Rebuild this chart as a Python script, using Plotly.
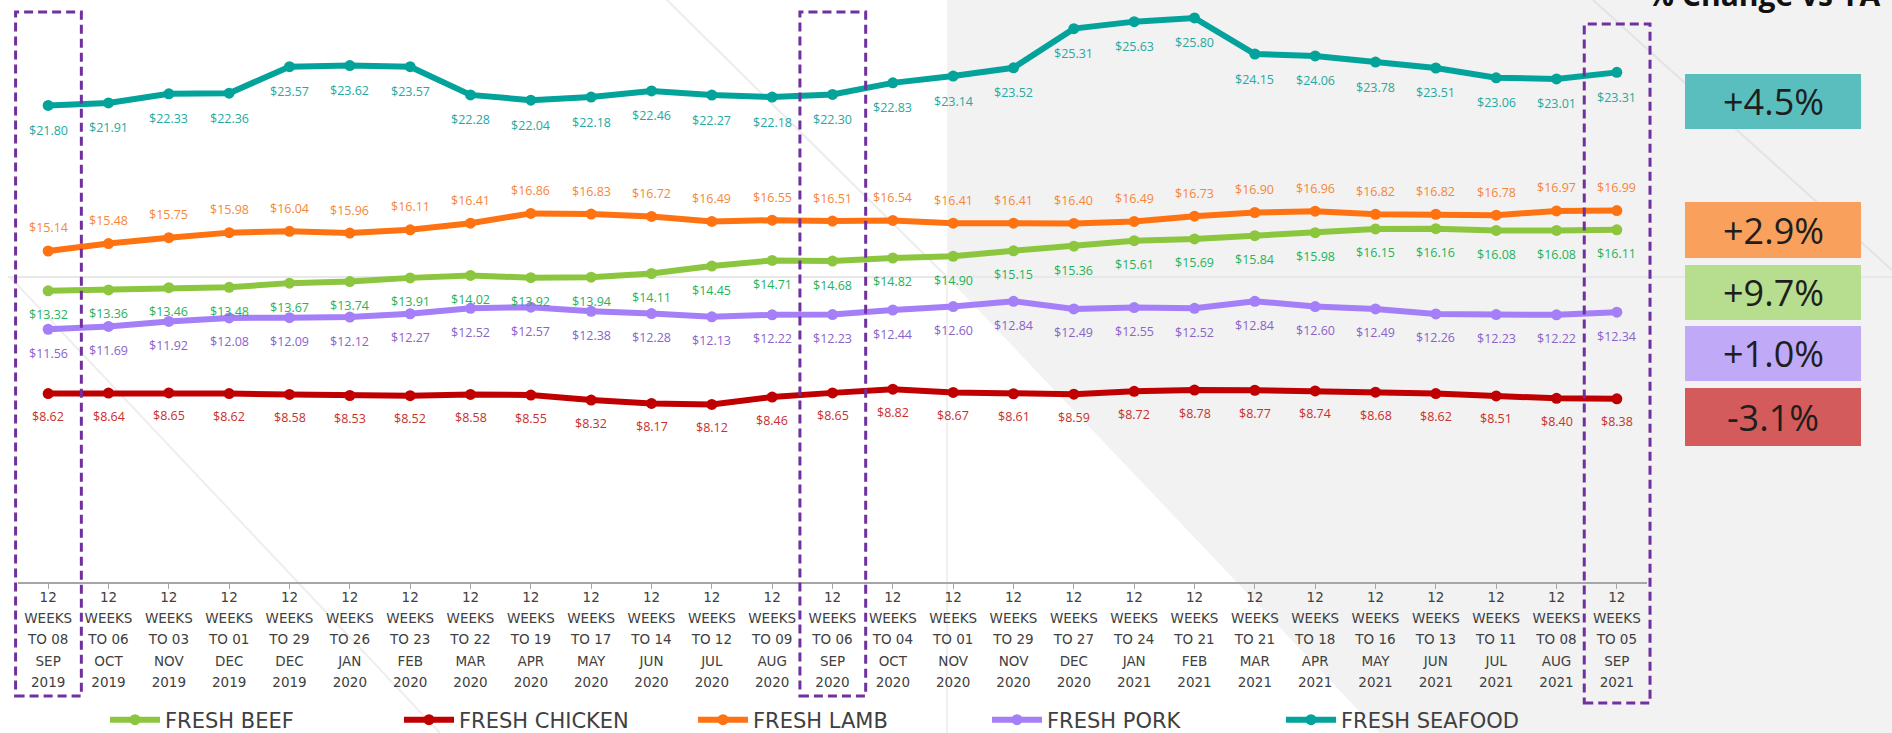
import plotly.graph_objects as go

# ---- data -------------------------------------------------------------
period_end = ["08 SEP 2019", "06 OCT 2019", "03 NOV 2019", "01 DEC 2019", "29 DEC 2019",
              "26 JAN 2020", "23 FEB 2020", "22 MAR 2020", "19 APR 2020", "17 MAY 2020",
              "14 JUN 2020", "12 JUL 2020", "09 AUG 2020", "06 SEP 2020", "04 OCT 2020",
              "01 NOV 2020", "29 NOV 2020", "27 DEC 2020", "24 JAN 2021", "21 FEB 2021",
              "21 MAR 2021", "18 APR 2021", "16 MAY 2021", "13 JUN 2021", "11 JUL 2021",
              "08 AUG 2021", "05 SEP 2021"]

fresh_beef = [13.32, 13.36, 13.46, 13.48, 13.67, 13.74, 13.91, 14.02, 13.92, 13.94,
              14.11, 14.45, 14.71, 14.68, 14.82, 14.90, 15.15, 15.36, 15.61, 15.69,
              15.84, 15.98, 16.15, 16.16, 16.08, 16.08, 16.11]
fresh_chicken = [8.62, 8.64, 8.65, 8.62, 8.58, 8.53, 8.52, 8.58, 8.55, 8.32,
                 8.17, 8.12, 8.46, 8.65, 8.82, 8.67, 8.61, 8.59, 8.72, 8.78,
                 8.77, 8.74, 8.68, 8.62, 8.51, 8.40, 8.38]
fresh_lamb = [15.14, 15.48, 15.75, 15.98, 16.04, 15.96, 16.11, 16.41, 16.86, 16.83,
              16.72, 16.49, 16.55, 16.51, 16.54, 16.41, 16.41, 16.40, 16.49, 16.73,
              16.90, 16.96, 16.82, 16.82, 16.78, 16.97, 16.99]
fresh_pork = [11.56, 11.69, 11.92, 12.08, 12.09, 12.12, 12.27, 12.52, 12.57, 12.38,
              12.28, 12.13, 12.22, 12.23, 12.44, 12.60, 12.84, 12.49, 12.55, 12.52,
              12.84, 12.60, 12.49, 12.26, 12.23, 12.22, 12.34]
fresh_seafood = [21.80, 21.91, 22.33, 22.36, 23.57, 23.62, 23.57, 22.28, 22.04, 22.18,
                 22.46, 22.27, 22.18, 22.30, 22.83, 23.14, 23.52, 25.31, 25.63, 25.80,
                 24.15, 24.06, 23.78, 23.51, 23.06, 23.01, 23.31]

# change vs year ago, top to bottom: seafood, lamb, beef, pork, chicken
change_vs_ya = [4.5, 2.9, 9.7, 1.0, -3.1]

# periods outlined with a dashed box
highlight_idx = [0, 13, 26]

# ---- styling ----------------------------------------------------------
W, H = 1892, 733
M_L, M_R, M_T, M_B = 18, 245, 0, 151
PW, PH = W - M_L - M_R, H - M_T - M_B
N = len(period_end)

FONT = "Open Sans"
WIDE_FONT = "DejaVu Sans"


def px(x):
    """page pixel x -> paper x"""
    return (x - M_L) / PW


def py(y):
    """page pixel y -> paper y"""
    return (H - M_B - y) / PH


series = [
    # name, values, line colour, label colour, label offset (px)
    ("FRESH BEEF", fresh_beef, "#8cc63f", "#1fb35a", -24),
    ("FRESH CHICKEN", fresh_chicken, "#c00000", "#c9302c", -23),
    ("FRESH LAMB", fresh_lamb, "#ff7212", "#f5873a", 23),
    ("FRESH PORK", fresh_pork, "#a57ff8", "#8a63c9", -24),
    ("FRESH SEAFOOD", fresh_seafood, "#03a39b", "#25a9a1", -25),
]


def tick_label(d):
    day, mon, yr = d.split()
    lines = ["12", "WEEKS", f"TO {day}", mon, yr]
    # small glyphs on a taller line pitch
    return "<br>".join(f'<span style="font-size:13.5px">{s}</span>' for s in lines)


tick_text = [tick_label(d) for d in period_end]

fig = go.Figure()
annotations = []

for name, vals, lc, tc, off in series:
    fig.add_trace(go.Scatter(
        x=list(range(N)), y=vals, name=name, mode="lines+markers",
        line=dict(color=lc, width=6), marker=dict(color=lc, size=11),
        cliponaxis=False, hoverinfo="skip",
    ))
    for i, v in enumerate(vals):
        annotations.append(dict(
            x=i, y=v, xref="x", yref="y", text=f"${v:.2f}", showarrow=False,
            yshift=off, font=dict(family=FONT, size=12.5, color=tc),
        ))

shapes = []

# background: grey panel on the right with a diagonal edge
gray_path = (f"M {px(947)},{py(0)} L {px(W)},{py(0)} L {px(W)},{py(H)} "
             f"L {px(1380)},{py(H)} L {px(947)},{py(277)} Z")
shapes.append(dict(type="path", path=gray_path, xref="paper", yref="paper",
                   fillcolor="#f2f2f2", line=dict(width=0), layer="below"))

# faint decorative guide lines
for (x0, y0, x1, y1, c) in [
    (8, 277, W, 277, "#e8e8e8"),
    (10, 277, 440, H, "#eeeeee"),
    (667, 0, 947, 277, "#ececec"),
    (947, 277, 947, H, "#f0f0f0"),
    (1593, 0, W, 270, "#e3e3e3"),
]:
    shapes.append(dict(type="line", xref="paper", yref="paper",
                       x0=px(x0), y0=py(y0), x1=px(x1), y1=py(y1),
                       line=dict(color=c, width=2), layer="below"))

# dashed highlight boxes around selected periods
box_tops = [12, 12, 24]
box_bottoms = [696, 696, 703]
for idx, t, b in zip(highlight_idx, box_tops, box_bottoms):
    shapes.append(dict(type="rect", xref="paper", yref="paper",
                       x0=(idx + 0.5 - 0.54) / N, x1=(idx + 0.5 + 0.55) / N,
                       y0=py(b), y1=py(t),
                       line=dict(color="#7030a0", width=3, dash="9px,5px"),
                       fillcolor="rgba(0,0,0,0)", layer="above"))

# % change boxes
box_colors = ["#5bbebe", "#f9a15c", "#b7dd8e", "#c0a9f6", "#d45b5b"]
box_rows = [(74, 129), (202, 258), (265, 320), (326, 381), (388, 446)]
for chg, col, (t, b) in zip(change_vs_ya, box_colors, box_rows):
    shapes.append(dict(type="rect", xref="paper", yref="paper",
                       x0=px(1685), x1=px(1861), y0=py(b), y1=py(t),
                       fillcolor=col, line=dict(width=0), layer="above"))
    annotations.append(dict(
        xref="paper", yref="paper", x=px(1773), y=py((t + b) / 2),
        text=f"{chg:+.1f}%", showarrow=False, xanchor="center", yanchor="middle",
        font=dict(family=FONT, size=36, color="#1e1e1e"),
    ))

annotations.append(dict(
    xref="paper", yref="paper", x=px(1645), y=py(17), xanchor="left", yanchor="bottom",
    text="<b>% Change vs YA</b>", showarrow=False,
    font=dict(family=FONT, size=30, color="#111111"),
))

fig.update_layout(
    width=W, height=H,
    margin=dict(l=M_L, r=M_R, t=M_T, b=M_B, pad=0, autoexpand=False),
    paper_bgcolor="white", plot_bgcolor="rgba(0,0,0,0)",
    showlegend=True,
    legend=dict(orientation="h", x=px(105), y=py(720), xanchor="left", yanchor="middle",
                font=dict(family=WIDE_FONT, size=21, color="#404040"),
                itemwidth=50, entrywidth=229, entrywidthmode="pixels",
                bgcolor="rgba(0,0,0,0)", traceorder="normal"),
    xaxis=dict(
        range=[-0.5, N - 0.5], tickmode="array", tickvals=list(range(N)),
        ticktext=tick_text, tickson="boundaries", ticks="outside", ticklen=5,
        tickcolor="#a6a6a6", showline=True, linecolor="#a6a6a6", linewidth=1.5,
        showgrid=False, zeroline=False, fixedrange=True, automargin=False,
        ticklabelstandoff=-7,
        tickfont=dict(family=WIDE_FONT, size=16.5, color="#404040"), tickangle=0,
    ),
    yaxis=dict(range=[0, 26.62], visible=False, fixedrange=True),
    shapes=shapes, annotations=annotations,
)

fig.write_html("out.html")
